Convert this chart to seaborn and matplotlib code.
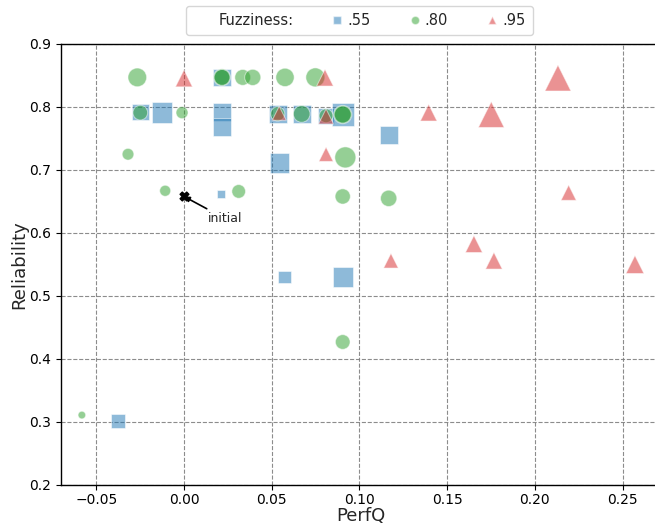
import matplotlib
matplotlib.use("Agg")
import matplotlib.pyplot as plt
from matplotlib.lines import Line2D
import seaborn as sns
import pandas as pd

# ---- data ----
perfq_55 = [-0.0249, -0.0125, 0.0217, 0.0217, 0.0217, 0.0534, 0.0671, 0.0810,
            0.0905, 0.0543, 0.1169, 0.0213, 0.0572, 0.0905, -0.0376]
rel_55 = [0.792, 0.791, 0.847, 0.792, 0.769, 0.789, 0.789, 0.786,
          0.788, 0.711, 0.755, 0.662, 0.530, 0.530, 0.302]
size_55 = [145, 222, 156, 156, 168, 168, 174, 138,
           258, 193, 168, 36, 83, 207, 102]

perfq_80 = [-0.0266, 0.0217, 0.0217, 0.0335, 0.0392, 0.0576, 0.0749, -0.0249,
            -0.0011, 0.0534, 0.0671, 0.0810, 0.0905, 0.0905, -0.0319, 0.0920,
            -0.0107, 0.0312, 0.0905, 0.1167, 0.0905, -0.0582]
rel_80 = [0.847, 0.847, 0.847, 0.847, 0.847, 0.847, 0.847, 0.791,
          0.791, 0.789, 0.789, 0.786, 0.788, 0.788, 0.725, 0.720,
          0.667, 0.666, 0.658, 0.655, 0.427, 0.311]
size_80 = [181, 150, 130, 130, 135, 174, 187, 112,
           75, 105, 145, 100, 174, 150, 71, 229,
           63, 97, 121, 138, 112, 30]

perfq_95 = [0.0, 0.0804, 0.0543, 0.0810, 0.0810, 0.1395, 0.1752, 0.2132,
            0.2193, 0.1180, 0.1653, 0.1767, 0.2571]
rel_95 = [0.8455, 0.8465, 0.790, 0.785, 0.725, 0.791, 0.788, 0.846,
          0.664, 0.556, 0.5825, 0.556, 0.550]
size_95 = [150, 145, 102, 117, 106, 145, 345, 350,
           121, 112, 150, 145, 168]

fuzz_labels = [".55", ".80", ".95"]
initial_x, initial_y = 0.0, 0.658
x_ticks = [-0.05, 0.00, 0.05, 0.10, 0.15, 0.20, 0.25]
y_ticks = [0.2, 0.3, 0.4, 0.5, 0.6, 0.7, 0.8, 0.9]

df = pd.concat([
    pd.DataFrame({"PerfQ": perfq_55, "Reliability": rel_55, "Fuzziness": ".55", "n": size_55}),
    pd.DataFrame({"PerfQ": perfq_80, "Reliability": rel_80, "Fuzziness": ".80", "n": size_80}),
    pd.DataFrame({"PerfQ": perfq_95, "Reliability": rel_95, "Fuzziness": ".95", "n": size_95}),
], ignore_index=True)

sns.set_style("ticks")
plt.rcParams["font.family"] = ["DejaVu Sans"]

palette = {".55": "#1f77b4", ".80": "#2ca02c", ".95": "#d62728"}
markers = {".55": "s", ".80": "o", ".95": "^"}

fig = plt.figure(figsize=(6.55, 5.25), dpi=100)
ax = fig.add_axes([0.0934, 0.0762, 0.9159, 0.84])

smin, smax = df["n"].min(), df["n"].max()
sns.scatterplot(data=df, x="PerfQ", y="Reliability", hue="Fuzziness", style="Fuzziness",
                size="n", sizes=(smin, smax), size_norm=(smin, smax),
                palette=palette, markers=markers, alpha=0.5, edgecolor="white",
                legend=False, ax=ax, zorder=3)

ax.scatter([initial_x], [initial_y], marker="X", s=40, color="black", zorder=4)
ax.annotate("initial", xy=(initial_x, initial_y), xytext=(0.0135, 0.623),
            fontsize=9, va="center", ha="left",
            arrowprops=dict(arrowstyle="-|>", color="black", lw=1.2, shrinkA=0, shrinkB=0,
                            mutation_scale=8))

ax.set_xlim(-0.07, 0.272)
ax.set_ylim(0.2, 0.9)
ax.set_xticks(x_ticks)
ax.set_yticks(y_ticks)
ax.set_xticklabels([f"{v:.2f}".replace("-", "\u2212") for v in x_ticks])
ax.set_yticklabels([f"{v:.1f}" for v in y_ticks])
ax.tick_params(labelsize=10, length=3.5, width=0.8, colors="black")
ax.tick_params(axis="x", pad=2.5)
ax.set_xlabel("PerfQ", fontsize=13, labelpad=-0.5)
ax.set_ylabel("Reliability", fontsize=13, labelpad=1)
ax.grid(True, linestyle="--", color="gray", linewidth=0.8, alpha=0.9, zorder=0)
ax.set_axisbelow(True)
for sp in ax.spines.values():
    sp.set_color("black")
    sp.set_linewidth(1.0)

handles = [Line2D([], [], linestyle="none", marker=None, label="Fuzziness:")]
for lab in fuzz_labels:
    handles.append(Line2D([], [], linestyle="none", marker=markers[lab], color=palette[lab],
                          alpha=0.5, markersize=6, markeredgecolor="white", label=lab))
bx = (359.5 - 61.2) / (0.9159 * 655)
leg = ax.legend(handles=handles, loc="lower center", bbox_to_anchor=(bx, 1.02), ncol=4,
                fontsize=10.5, frameon=True, fancybox=True, handlelength=2.0,
                columnspacing=2.0, handletextpad=-0.3, borderpad=0.5, borderaxespad=0)
leg.get_frame().set_edgecolor("#cccccc")

fig.savefig("out.png", dpi=100)
